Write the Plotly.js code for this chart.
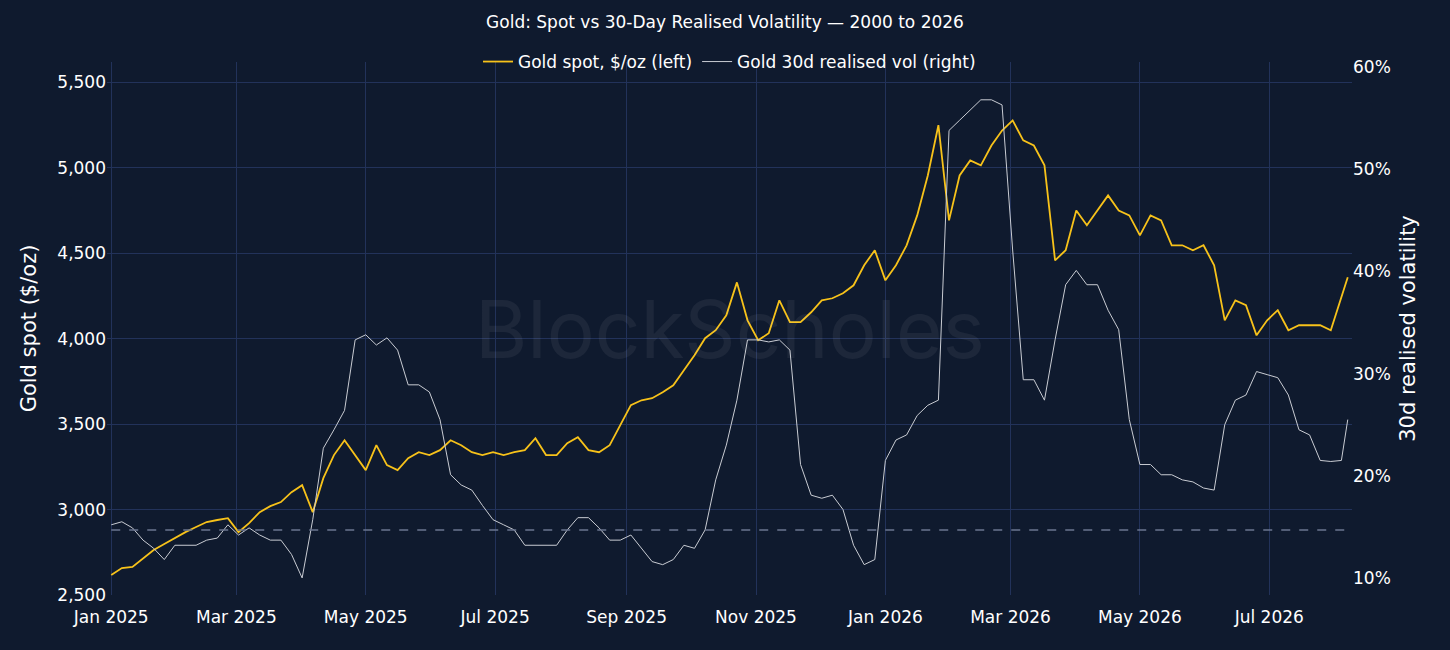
<!DOCTYPE html>
<html><head><meta charset="utf-8">
<script src="https://cdn.plot.ly/plotly-3.0.1.min.js"></script>
<style>html,body{margin:0;background:#0f1a2e}</style></head>
<body><div id="c" style="width:1450px;height:650px"></div>
<script>
const startDate = '2025-01-01';
const stepDays = 5;
const goldSpot = [2617,2658,2664,2716,2763,2798,2833,2868,2898,2927,2939,2950,2868,2921,2985,3020,3044,3102,3143,2985,
3184,3319,3406,3319,3231,3377,3260,3231,3301,3336,3319,3348,3406,3377,3336,3319,3336,3319,3336,3348,
3418,3319,3319,3389,3424,3348,3336,3377,3494,3611,3640,3652,3687,3728,3816,3904,4003,4050,4137,4330,
4108,3991,4032,4225,4097,4097,4155,4225,4237,4266,4313,4430,4518,4342,4430,4547,4722,4956,5250,4693,
4956,5044,5015,5131,5219,5278,5161,5131,5015,4459,4518,4751,4664,4751,4839,4751,4722,4605,4722,4693,
4547,4547,4518,4547,4430,4108,4225,4196,4020,4108,4167,4050,4079,4079,4079,4050,4240,4360];
const realisedVol = [15.2,15.5,14.9,13.7,12.9,11.8,13.2,13.2,13.2,13.7,13.9,15.2,14.2,14.9,14.2,13.7,13.7,12.3,10.0,15.7,
22.7,24.5,26.4,33.3,33.8,32.8,33.5,32.3,28.9,28.9,28.2,25.5,20.1,19.1,18.6,17.1,15.7,15.2,14.7,13.2,
13.2,13.2,13.2,14.7,15.9,15.9,14.9,13.7,13.7,14.2,12.9,11.6,11.3,11.8,13.2,12.9,14.7,19.6,23.0,27.4,
33.3,33.3,33.1,33.3,32.3,21.1,18.1,17.8,18.1,16.7,13.2,11.3,11.8,21.5,23.5,24.0,25.9,26.9,27.4,53.8,
54.8,55.8,56.8,56.8,56.3,42.1,29.4,29.4,27.4,33.3,38.7,40.1,38.7,38.7,36.2,34.3,25.5,21.1,21.1,20.1,
20.1,19.6,19.4,18.8,18.6,25.0,27.4,27.9,30.2,29.9,29.6,27.9,24.5,24.0,21.5,21.4,21.5,25.5];
const longRunVol = 14.7;

const dates = goldSpot.map((_, i) => {
  const d = new Date(startDate + 'T00:00:00Z');
  d.setUTCDate(d.getUTCDate() + i * stepDays - (i === goldSpot.length - 1 ? 2 : 0));
  return d.toISOString().slice(0, 10);
});

const grid = '#22325a';
const traces = [
  {x: dates, y: goldSpot, type: 'scatter', mode: 'lines', name: 'Gold spot, $/oz (left)',
   line: {color: '#f7c21a', width: 1.8}},
  {x: dates, y: realisedVol, type: 'scatter', mode: 'lines', name: 'Gold 30d realised vol (right)',
   yaxis: 'y2', line: {color: '#c9ccd3', width: 1}},
  {x: [dates[0], dates[dates.length-1]], y: [longRunVol, longRunVol], type: 'scatter', mode: 'lines',
   yaxis: 'y2', showlegend: false, hoverinfo: 'skip', line: {color: '#6b7690', width: 1.5, dash: 'dash'}}
];
const layout = {
  width: 1450, height: 650,
  paper_bgcolor: '#0f1a2e', plot_bgcolor: '#0f1a2e',
  margin: {l: 107, r: 98, t: 62, b: 55},
  font: {family: 'DejaVu Sans, sans-serif', color: '#ffffff'},
  title: {text: 'Gold: Spot vs 30-Day Realised Volatility — 2000 to 2026', x: 0.5, y: 0.975, yanchor: 'top',
          font: {size: 17, color: '#ffffff'}},
  showlegend: true,
  legend: {orientation: 'h', x: 0.5, xanchor: 'center', y: 1.0, yanchor: 'middle',
           font: {size: 17, color: '#ffffff'}, bgcolor: 'rgba(0,0,0,0)'},
  xaxis: {type: 'date', range: ['2024-12-30', '2026-08-09'], tickformat: '%b %Y', dtick: 'M2',
          tick0: '2025-01-01', gridcolor: grid, showline: false, zeroline: false,
          tickfont: {size: 17}, ticks: '', ticklabelstandoff: 10},
  yaxis: {range: [2500, 5620], tickformat: ',d', dtick: 500, gridcolor: grid, zeroline: false,
          tickfont: {size: 17}, title: {text: 'Gold spot ($/oz)', font: {size: 21}, standoff: 14}},
  yaxis2: {range: [8.33, 60.5], overlaying: 'y', side: 'right', dtick: 10, ticksuffix: '%',
           showgrid: false, zeroline: false, tickfont: {size: 17},
           title: {text: '30d realised volatility', font: {size: 21}, standoff: 10}},
  annotations: [{text: 'BlockScholes', xref: 'paper', yref: 'paper', x: 0.5, y: 0.5, showarrow: false,
                 font: {size: 80, color: 'rgba(255,255,255,0.06)', family: 'Inter, sans-serif'}}]
};
Plotly.newPlot('c', traces, layout, {displayModeBar: false});
</script></body></html>
